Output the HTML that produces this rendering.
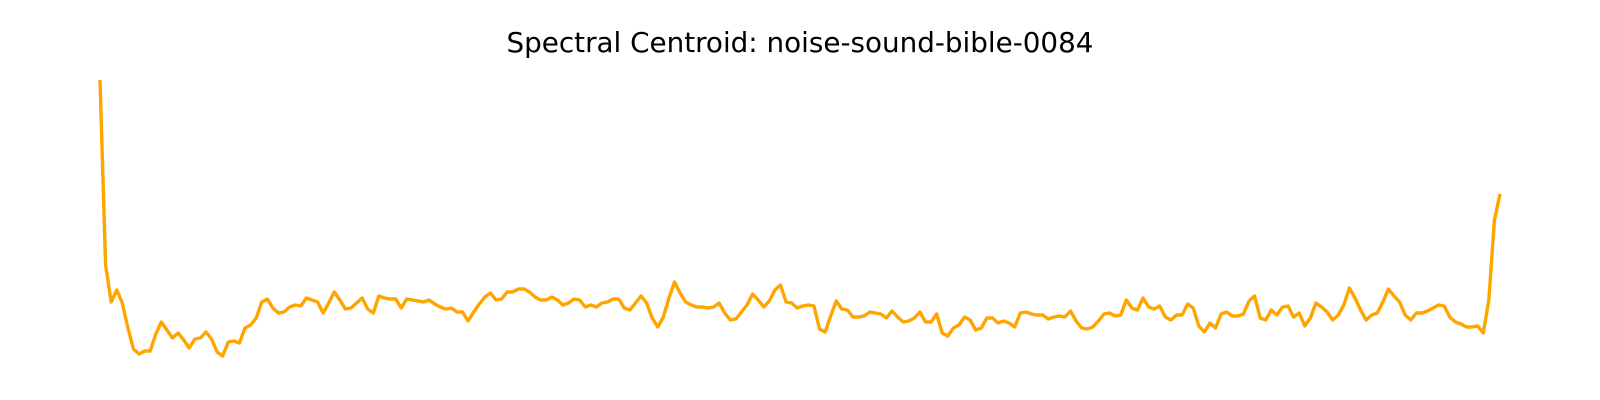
<!DOCTYPE html>
<html><head><meta charset="utf-8"><style>
html,body{margin:0;padding:0;background:#fff;}
svg{display:block;}
</style></head>
<body>
<svg id="chart" width="1600" height="400" viewBox="0 0 1600 400">
<text x="800" y="52" text-anchor="middle" font-family="DejaVu Sans, Liberation Sans, sans-serif" font-size="27.8" fill="#000">Spectral Centroid: noise-sound-bible-0084</text>
<g id="plot"></g>
</svg>
<script>
const centroidPart1 = [290,105,68,80,67,42,21,16,19,19,36,48,40,32,37,30,22,31,32,38,31,18,14,28,29,27,42,45,52,68,71,62,57,58,63,65,64,72,70,68,57,67,78,70,61,62,67,72,61,57,74,72,71,71,62,71,70,69,68,70,66,63,61];
const centroidPart2 = [62,58,58,49,58,66,73,77,70,71,78,78,81,81,78,73,70,70,73,70,65,67,71,70,63,65,63,67,68,71,71,62,60,67,74,67,52,43,53,72,88,77,68,65,63,63,62,63,67,57,50,51,58,65,76,70,63,69,80,85,68,67,62];
const centroidPart3 = [64,65,64,41,38,54,69,61,60,53,53,54,58,57,56,52,59,53,48,49,52,58,48,48,56,37,34,42,45,53,50,40,42,52,52,47,49,47,43,57,58,56,55,55,51,53,54,53,59,49,42,41,43,49,56,57,54,55,70,62,60,72,63];
const centroidPart4 = [61,64,53,50,55,55,66,62,44,38,47,42,56,58,54,54,56,69,74,52,50,60,55,63,64,53,57,44,52,67,63,58,50,55,65,82,72,60,50,55,57,68,81,74,68,55,50,57,57,59,62,65,64];
const centroidPart5 = [53,48,46,43,43,44,37,70,150,176];
const centroid = centroidPart1.concat(centroidPart2, centroidPart3, centroidPart4, centroidPart5);

const X0 = 100, X1 = 1500;
function xScale(i){ return X0 + (X1 - X0) * i / (centroid.length - 1); }
function yScale(v){ return 370 - v; }

const g = document.getElementById('plot');
const d = centroid.map((v,i)=>(i?'L':'M')+xScale(i).toFixed(2)+','+yScale(v).toFixed(2)).join(' ');
const p = document.createElementNS('http://www.w3.org/2000/svg','path');
p.setAttribute('d', d);
p.setAttribute('fill','none');
p.setAttribute('stroke','#FFA500');
p.setAttribute('stroke-width','3.4');
p.setAttribute('stroke-linejoin','round');


g.appendChild(p);
</script>
</body></html>
